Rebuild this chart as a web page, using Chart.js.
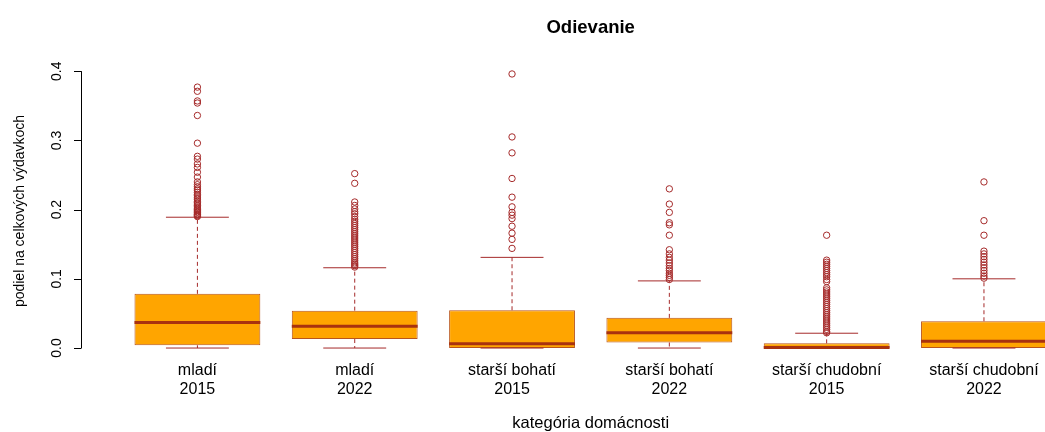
<!DOCTYPE html>
<html>
<head>
<meta charset="utf-8">
<script src="https://cdn.jsdelivr.net/npm/chart.js@4"></script>
<style>
    html, body { margin: 0; padding: 0; background: #fff; overflow: hidden; }
    #wrap { width: 1045px; height: 432px; }
</style>
</head>
<body>
<div id="wrap"><canvas id="chart" width="1045" height="432"></canvas></div>
<script>
// kategórie (skupina + rok) a ich pozícia na osi x
const groups = ['mladí', 'mladí', 'starší bohatí', 'starší bohatí', 'starší chudobní', 'starší chudobní'];
const years = ['2015', '2022', '2015', '2022', '2015', '2022'];
const positions = [1, 2, 3, 4, 5, 6];

// päťčíselné charakteristiky boxov (odčítané z obrázka)
const whiskerLow = [0, 0, 0, 0, 0, 0];
const q1 = [0.004, 0.013, 0.0, 0.008, 0.0, 0.0];
const median = [0.037, 0.0315, 0.0062, 0.022, 0.0008, 0.0098];
const q3 = [0.0783, 0.054, 0.0546, 0.0436, 0.0068, 0.0387];
const whiskerHigh = [0.189, 0.116, 0.131, 0.097, 0.0214, 0.100];

// odľahlé hodnoty
const outliers = [
    [0.377, 0.371, 0.357, 0.354, 0.336, 0.296, 0.277, 0.273, 0.266, 0.261, 0.254, 0.247, 0.240, 0.236,
     0.233, 0.230, 0.228, 0.225, 0.222, 0.220, 0.217, 0.215, 0.212, 0.210, 0.208, 0.206, 0.204, 0.202,
     0.200, 0.199, 0.197, 0.196, 0.194, 0.193, 0.192, 0.191, 0.190],
    [0.252, 0.238, 0.211, 0.206, 0.201, 0.197, 0.194, 0.190, 0.186, 0.183, 0.180, 0.177, 0.174, 0.171,
     0.168, 0.165, 0.162, 0.159, 0.156, 0.153, 0.150, 0.147, 0.144, 0.141, 0.138, 0.135, 0.132, 0.129,
     0.126, 0.123, 0.121, 0.119, 0.117],
    [0.396, 0.305, 0.282, 0.245, 0.218, 0.204, 0.196, 0.192, 0.187, 0.176, 0.166, 0.157, 0.144],
    [0.230, 0.208, 0.196, 0.181, 0.178, 0.163, 0.142, 0.136, 0.131, 0.127, 0.123, 0.119, 0.115, 0.112,
     0.108, 0.105, 0.102, 0.099],
    [0.163, 0.127, 0.124, 0.121, 0.118, 0.115, 0.112, 0.109, 0.106, 0.103, 0.099, 0.096, 0.087, 0.084,
     0.081, 0.078, 0.075, 0.072, 0.069, 0.066, 0.063, 0.060, 0.057, 0.054, 0.051, 0.048, 0.045, 0.042,
     0.039, 0.036, 0.033, 0.030, 0.027, 0.024, 0.022],
    [0.240, 0.184, 0.163, 0.140, 0.136, 0.132, 0.128, 0.124, 0.120, 0.116, 0.112, 0.108, 0.104, 0.101],
];

const yTicks = [0.0, 0.1, 0.2, 0.3, 0.4];

const FONT = "'Liberation Sans', Arial, Helvetica, sans-serif";
const BROWN = '#A52A2A';
const BOX_BORDER = '#B8561C';
const MEDIAN = '#A8320F';
const ORANGE = '#FFA500';

// polomer v pixeloch pre danú šírku v jednotkách osi x
const halfWidth = (units) => (ctx) => {
    const s = ctx.chart.scales.x;
    return s.getPixelForValue(1 + units) - s.getPixelForValue(1);
};

const whiskerData = [];
positions.forEach((x, i) => {
    whiskerData.push({ x, y: q3[i] }, { x, y: whiskerHigh[i] }, { x, y: null });
    whiskerData.push({ x, y: q1[i] }, { x, y: whiskerLow[i] }, { x, y: null });
});

const stapleData = [];
positions.forEach((x, i) => {
    stapleData.push({ x, y: whiskerHigh[i] }, { x, y: whiskerLow[i] });
});

const outlierData = [];
outliers.forEach((list, i) => {
    list.forEach((v) => outlierData.push({ x: positions[i], y: v }));
});

// osi, popisy a nadpis v štýle R
const rAxes = {
    id: 'rAxes',
    afterDraw(chart) {
        const ctx = chart.ctx;
        const xs = chart.scales.x;
        const ys = chart.scales.y;
        const left = chart.chartArea.left;

        ctx.save();
        ctx.strokeStyle = '#000';
        ctx.lineWidth = 1;
        ctx.beginPath();
        ctx.moveTo(left + 0.5, ys.getPixelForValue(yTicks[0]));
        ctx.lineTo(left + 0.5, ys.getPixelForValue(yTicks[yTicks.length - 1]));
        yTicks.forEach((v) => {
            const py = Math.round(ys.getPixelForValue(v)) + 0.5;
            ctx.moveTo(left + 0.5, py);
            ctx.lineTo(left - 7, py);
        });
        ctx.stroke();

        ctx.fillStyle = '#000';
        ctx.textAlign = 'center';
        ctx.textBaseline = 'middle';
        ctx.font = '14px ' + FONT;
        yTicks.forEach((v) => {
            ctx.save();
            ctx.translate(left - 24, ys.getPixelForValue(v));
            ctx.rotate(-Math.PI / 2);
            ctx.fillText(v.toFixed(1), 0, 0);
            ctx.restore();
        });

        const midY = (chart.chartArea.top + chart.chartArea.bottom) / 2;
        ctx.save();
        ctx.translate(20, midY);
        ctx.rotate(-Math.PI / 2);
        ctx.fillText('podiel na celkových výdavkoch', 0, 0);
        ctx.restore();

        const midX = xs.getPixelForValue(3.5);
        ctx.textBaseline = 'alphabetic';
        ctx.font = '16.5px ' + FONT;
        ctx.fillText('kategória domácnosti', midX, 428);

        ctx.font = 'bold 18.5px ' + FONT;
        ctx.fillText('Odievanie', midX, 33);
        ctx.restore();
    },
};

new Chart(document.getElementById('chart'), {
    type: 'bar',
    data: {
        datasets: [
            {
                type: 'scatter',
                data: outlierData,
                pointStyle: 'circle',
                pointRadius: 3.2,
                pointHoverRadius: 3.2,
                pointBackgroundColor: 'rgba(0,0,0,0)',
                pointBorderColor: BROWN,
                pointBorderWidth: 1,
                order: 0,
            },
            {
                type: 'scatter',
                data: positions.map((x, i) => ({ x, y: median[i] })),
                pointStyle: 'line',
                pointRadius: halfWidth(0.4),
                pointHoverRadius: halfWidth(0.4),
                pointBorderColor: MEDIAN,
                pointBorderWidth: 3,
                order: 1,
            },
            {
                type: 'scatter',
                data: stapleData,
                pointStyle: 'line',
                pointRadius: halfWidth(0.2),
                pointHoverRadius: halfWidth(0.2),
                pointBorderColor: BROWN,
                pointBorderWidth: 1,
                order: 2,
            },
            {
                type: 'line',
                data: whiskerData,
                borderColor: BROWN,
                borderWidth: 1,
                borderDash: [4, 3],
                pointRadius: 0,
                spanGaps: false,
                fill: false,
                order: 3,
            },
            {
                type: 'bar',
                data: positions.map((x, i) => ({ x, y: [q1[i], q3[i]] })),
                backgroundColor: ORANGE,
                borderColor: BOX_BORDER,
                borderWidth: 1,
                borderSkipped: false,
                barPercentage: 0.8,
                categoryPercentage: 1,
                grouped: false,
                order: 4,
            },
        ],
    },
    options: {
        responsive: false,
        animation: false,
        devicePixelRatio: 1,
        layout: { padding: { top: 63, left: 0, right: 0, bottom: 0 }, autoPadding: false },
        plugins: {
            legend: { display: false },
            tooltip: { enabled: false },
            title: { display: false },
        },
        scales: {
            x: {
                type: 'linear',
                min: 0.26,
                max: 6.388,
                offset: false,
                grid: { display: false, drawTicks: false, offset: false },
                border: { display: false },
                afterBuildTicks: (scale) => {
                    scale.ticks = positions.map((v) => ({ value: v }));
                },
                afterFit: (scale) => {
                    scale.height = 73;
                },
                ticks: {
                    autoSkip: false,
                    maxRotation: 0,
                    minRotation: 0,
                    padding: 2,
                    color: '#000',
                    font: { family: FONT, size: 16, lineHeight: 1.2 },
                    callback: (value, index) => [groups[index], years[index]],
                },
            },
            y: {
                type: 'linear',
                min: -0.01584,
                max: 0.41184,
                grid: { display: false, drawTicks: false },
                border: { display: false },
                ticks: { display: false },
                afterFit: (scale) => {
                    scale.width = 81;
                },
            },
        },
    },
    plugins: [rAxes],
});
</script>
</body>
</html>
